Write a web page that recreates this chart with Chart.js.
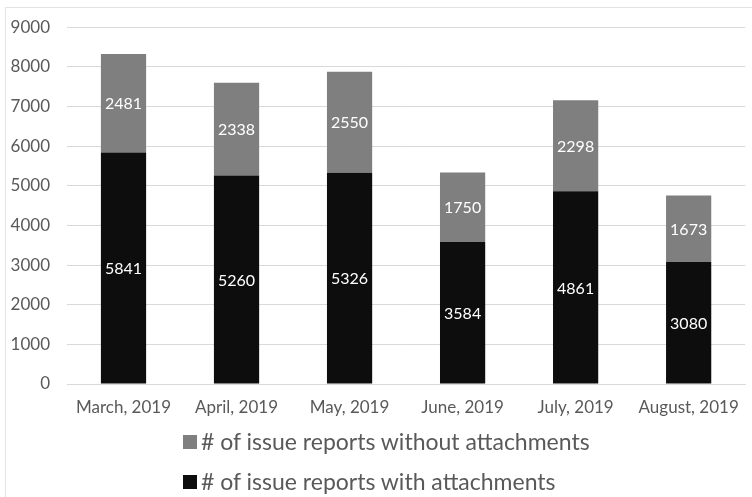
<!DOCTYPE html>
<html>
<head>
<meta charset="utf-8">
<script src="https://cdn.jsdelivr.net/npm/chart.js@4.4.1/dist/chart.umd.min.js"></script>
<style>
  body { margin: 0; background: #fff; font-family: Lato, "Open Sans", sans-serif; }
  #frame { position: absolute; left: 5px; top: 7px; width: 800px; height: 520px; border: 1px solid #e3e3e3; }
  #wrap { position: absolute; left: 0; top: 0; width: 752px; height: 497px; }
  #legend { position: absolute; left: 183px; top: 427px; color: #595959; font-size: 23px; }
  #legend div { height: 40px; line-height: 28px; white-space: nowrap; }
  #legend span { display: inline-block; width: 14px; height: 14px; margin-right: 4px; vertical-align: 1px; }
</style>
</head>
<body>
<div id="frame"></div>
<div id="wrap"><canvas id="issuesChart" width="752" height="497"></canvas></div>
<div id="legend"></div>
<script>
var months = ['March, 2019', 'April, 2019', 'May, 2019', 'June, 2019', 'July, 2019', 'August, 2019'];
var withAttachments = [5841, 5260, 5326, 3584, 4861, 3080];
var withoutAttachments = [2481, 2338, 2550, 1750, 2298, 1673];
var yTicks = [0, 1000, 2000, 3000, 4000, 5000, 6000, 7000, 8000, 9000];

// white value labels in the middle of each bar segment
var segmentLabels = {
    id: 'segmentLabels',
    afterDatasetsDraw: function (chart) {
        var ctx = chart.ctx;
        ctx.save();
        ctx.fillStyle = '#ffffff';
        ctx.font = '16px Lato';
        ctx.textAlign = 'center';
        ctx.textBaseline = 'middle';
        chart.data.datasets.forEach(function (ds, i) {
            chart.getDatasetMeta(i).data.forEach(function (bar, j) {
                var c = bar.getCenterPoint();
                ctx.fillText(ds.data[j], c.x, c.y + 1);
            });
        });
        ctx.restore();
    }
};

var ctx = document.getElementById('issuesChart').getContext('2d');
var issuesChart = new Chart(ctx, {
    type: 'bar',
    data: {
        labels: months,
        datasets: [{
            label: '# of issue reports with attachments',
            data: withAttachments,
            backgroundColor: '#0d0d0d'
        }, {
            label: '# of issue reports without attachments',
            data: withoutAttachments,
            backgroundColor: '#7f7f7f'
        }]
    },
    options: {
        responsive: false,
        animation: false,
        categoryPercentage: 0.4,
        barPercentage: 1,
        layout: { padding: { top: 24, right: 3, bottom: 0, left: 0 } },
        plugins: {
            legend: { display: false },
            tooltip: { enabled: false }
        },
        scales: {
            x: {
                stacked: true,
                grid: { display: false, drawTicks: false },
                border: { color: '#d9d9d9' },
                ticks: { color: '#595959', font: { family: 'Lato', size: 17 }, padding: 13, maxRotation: 0 },
                afterFit: function (scale) { scale.height = 113; }
            },
            y: {
                stacked: true,
                min: 0,
                max: 9000,
                afterBuildTicks: function (scale) {
                    scale.ticks = yTicks.map(function (v) { return { value: v }; });
                },
                grid: { color: '#d9d9d9', drawTicks: false },
                border: { display: false },
                ticks: {
                    color: '#595959',
                    font: { family: 'Lato', size: 17 },
                    padding: 17,
                    callback: function (v) { return String(v); }
                },
                afterFit: function (scale) { scale.width = 67; }
            }
        }
    },
    plugins: [segmentLabels]
});

// legend: gray series first, then black
var legend = document.getElementById('legend');
issuesChart.data.datasets.slice().reverse().forEach(function (ds) {
    var row = document.createElement('div');
    var box = document.createElement('span');
    box.style.background = ds.backgroundColor;
    row.appendChild(box);
    row.appendChild(document.createTextNode(ds.label));
    legend.appendChild(row);
});
</script>
</body>
</html>
